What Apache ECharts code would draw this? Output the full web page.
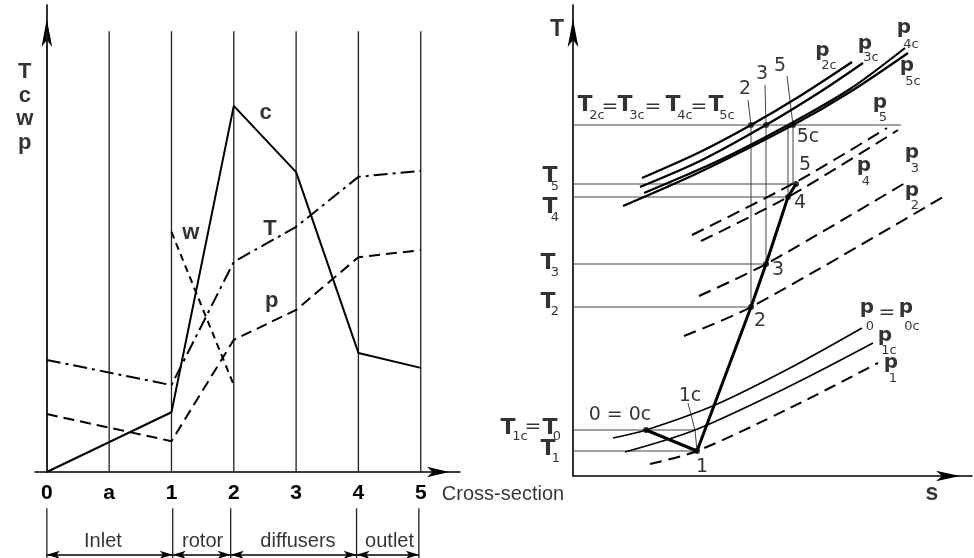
<!DOCTYPE html>
<html><head><meta charset="utf-8">
<script src="https://cdn.jsdelivr.net/npm/echarts@6.0.0/dist/echarts.min.js"></script>
<style>html,body{margin:0;padding:0;background:#fff}#chart{width:974px;height:558px}</style>
</head><body><div id="chart"></div>
<script>
// ================= LEFT PANEL DATA =================
const sections = ['0', 'a', '1', '2', '3', '4', '5'];
const cValues = [0, null, 1.28, 7.84, 6.42, 2.55, 2.23];
const TValues = [2.40, null, 1.86, 4.50, 5.25, 6.32, 6.45];
const pValues = [1.24, null, 0.66, 2.83, 3.47, 4.60, 4.75];
const wValues = [null, null, 5.14, 1.86, null, null, null];
const sectionLineTop = 9.44;
const regionNames = ['Inlet', 'rotor', 'diffusers', 'outlet'];
const regionEdges = [0, 2.02, 2.95, 4.97, 5.97];

// ================= RIGHT PANEL DATA (s, T) =================
const isoP2c = [[6.9, 29.8], [12.7, 32.4], [17.8, 35.1], [22.7, 38.0], [27.9, 41.4]];
const isoP3c = [[6.7, 28.9], [12.7, 31.5], [19.3, 35.1], [24.7, 38.4], [29.0, 41.3]];
const isoP4c = [[7.1, 28.3], [14.7, 31.6], [21.5, 35.1], [27.7, 38.7], [33.2, 42.8]];
const isoP5c = [[5.0, 27.0], [12.7, 30.4], [22.0, 35.1], [27.7, 38.4], [33.5, 42.3]];
const isoP5 = [[11.9, 24.1], [22.3, 29.4], [31.4, 34.8]];
const isoP4 = [[12.8, 23.5], [21.5, 27.9], [32.5, 34.6]];
const isoP3 = [[12.6, 18.0], [19.3, 21.2], [33.2, 29.3]];
const isoP2 = [[11.1, 14.0], [17.8, 16.9], [37.0, 27.9]];
const isoP0 = [[4.0, 3.8], [7.3, 4.6], [14.2, 7.1], [21.7, 10.8], [28.9, 14.8]];
const isoP1c = [[5.2, 2.4], [12.2, 4.6], [21.7, 9.0], [30.0, 13.3]];
const isoP1 = [[7.7, 1.2], [12.4, 2.5], [21.7, 6.8], [30.5, 11.3]];
const processPath = [[7.3, 4.6], [12.4, 2.5], [17.8, 16.9], [19.3, 21.2], [21.5, 27.9], [22.3, 29.2]];
const stagnationPoints = [[17.8, 35.1], [19.3, 35.1], [22.0, 35.1]];
// temperature levels: [T, s where the level line ends]
const levelLines = [[35.1, 32.8], [29.2, 22.0], [27.9, 21.5], [21.2, 19.3], [16.9, 17.8], [4.6, 12.2], [2.5, 12.4]];
// projections: [s, T top, T bottom]
const dropLines = [[17.8, 35.1, 16.9], [19.3, 35.1, 21.2], [21.5, 35.1, 27.9], [22.0, 35.1, 29.2]];
const leaderLines = [
  [[17.5, 37.6], [17.8, 35.1]],
  [[19.2, 39.1], [19.3, 35.1]],
  [[21.4, 40.0], [22.0, 35.1]],
  [[11.5, 7.3], [12.2, 4.6], [12.4, 2.5]]
];

// ================= TEXT ANNOTATIONS =================
const leftBoldTexts = [[3.51, 7.68, 'c'], [2.31, 5.11, 'w'], [3.58, 5.21, 'T'], [3.61, 3.66, 'p'],
  [-0.353, 8.57, 'T'], [-0.353, 8.06, 'c'], [-0.353, 7.55, 'w'], [-0.353, 7.04, 'p']];
const leftPlainTexts = [[7.32, -0.49, 'Cross-section']];
const regionLabelPos = [0.90, 2.50, 4.03, 5.50];

const rightPTexts = [[24.95, 42.55], [29.2, 43.2], [33.1, 44.8], [33.4, 41.0], [30.7, 37.3], [29.1, 31.0],
  [33.9, 32.3], [33.9, 28.5], [29.4, 16.8], [33.3, 16.8], [31.2, 14.0], [31.8, 11.3]];
const rightSubTexts = [[25.6, 41.0, '2c'], [29.8, 41.8, '3c'], [33.8, 43.1, '4c'], [34.0, 39.4, '5c'], [31.0, 35.8, '5'],
  [29.3, 29.4, '4'], [34.2, 30.7, '3'], [34.2, 27.0, '2'], [29.7, 14.9, '0'], [33.9, 14.9, '0c'], [31.6, 12.5, '1c'], [32.0, 9.7, '1'],
  [2.4, 36.0, '2c'], [6.4, 36.0, '3c'], [11.2, 36.0, '4c'], [15.4, 36.0, '5c'],
  [-1.8, 28.9, '5'], [-1.8, 25.8, '4'], [-1.8, 20.3, '3'], [-1.8, 16.4, '2'], [-5.3, 3.9, '1c'], [-1.6, 3.9, '0'], [-1.7, 1.7, '1']];
const rightTTexts = [[1.2, 37.1], [5.2, 37.1], [10.0, 37.1], [14.3, 37.1],
  [-2.3, 30.0], [-2.3, 26.9], [-2.5, 21.3], [-2.5, 17.4], [-6.5, 4.8], [-2.3, 4.8], [-2.5, 2.7]];
const rightEqTexts = [[3.7, 36.9], [8.0, 36.9], [12.6, 36.9], [31.4, 16.3], [-4.0, 4.9]];
const rightNumTexts = [[17.2, 38.7, '2'], [18.9, 40.2, '3'], [20.7, 41.0, '5'], [23.5, 33.9, '5c'], [23.2, 31.1, '5'],
  [22.7, 27.3, '4'], [20.5, 20.6, '3'], [18.7, 15.5, '2'], [11.7, 8.0, '1c'], [4.7, 6.1, '0 = 0c'], [12.9, 0.9, '1']];
const rightAxisTitles = [[-1.6, 44.6, 'T'], [35.9, -1.75, 's']];

// ================= BUILD =================
const ARIAL = 'Liberation Sans, Arial, sans-serif';
const DEJAVU = 'DejaVu Sans, sans-serif';
const toPairs = vals => vals.map((v, i) => v == null ? null : [i, v]).filter(Boolean);

function line(idx, data, lineStyle, extra) {
  return Object.assign({
    type: 'line', xAxisIndex: idx, yAxisIndex: idx, data: data, symbol: 'none',
    silent: true, connectNulls: true,
    lineStyle: Object.assign({ color: '#000', width: 2 }, lineStyle)
  }, extra || {});
}
function texts(idx, items, labelStyle) {
  return {
    type: 'scatter', xAxisIndex: idx, yAxisIndex: idx, clip: false, silent: true,
    symbolSize: 1, itemStyle: { color: 'rgba(0,0,0,0)' },
    data: items.map(t => ({ value: [t[0], t[1]], name: t[2] })),
    label: Object.assign({ show: true, position: 'inside', color: '#000', formatter: p => p.name }, labelStyle)
  };
}

const series = [];
// left: section lines
sections.forEach((s, i) => series.push(line(0, [[i, 0], [i, sectionLineTop]], { width: 1.3, color: '#222' })));
series.push(line(0, toPairs(cValues), { width: 2 }));
series.push(line(0, toPairs(TValues), { width: 2, type: [14, 5, 3, 5] }));
series.push(line(0, toPairs(pValues), { width: 2, type: [11, 6] }));
series.push(line(0, toPairs(wValues), { width: 2, type: [7, 5] }));
series.push(texts(0, leftBoldTexts, { fontFamily: ARIAL, fontWeight: 'bold', fontSize: 22 }));
series.push(texts(0, leftPlainTexts, { fontFamily: ARIAL, fontSize: 20 }));

// brackets
regionEdges.forEach(x => series.push(line(1, [[x, 0], [x, 0.94]], { width: 1.3, color: '#222' })));
series.push({
  type: 'line', xAxisIndex: 1, yAxisIndex: 1, data: [[0, 0]], symbol: 'none', silent: true, lineStyle: { opacity: 0 },
  markLine: {
    silent: true, symbol: ['arrow', 'arrow'], symbolSize: [6, 13], label: { show: false },
    lineStyle: { color: '#000', width: 1.5, type: 'solid' },
    data: regionNames.map((n, i) => [{ coord: [regionEdges[i], 0.06] }, { coord: [regionEdges[i + 1], 0.06] }])
  }
});
series.push(texts(1, regionNames.map((n, i) => [regionLabelPos[i], 0.32, n]), { fontFamily: ARIAL, fontSize: 20 }));

// right panel
levelLines.forEach(l => series.push(line(2, [[0, l[0]], [l[1], l[0]]], { width: 1, color: '#444' })));
dropLines.forEach(d => series.push(line(2, [[d[0], d[1]], [d[0], d[2]]], { width: 1, color: '#444' })));
leaderLines.forEach(d => series.push(line(2, d, { width: 1, color: '#444' })));
const sm = { smooth: 0.3 };
[isoP2c, isoP3c, isoP4c, isoP5c].forEach(d => series.push(line(2, d, { width: 2.2 }, sm)));
[isoP5, isoP4, isoP3, isoP2].forEach(d => series.push(line(2, d, { width: 2, type: [13, 7] }, sm)));
series.push(line(2, isoP0, { width: 1.6 }, sm));
series.push(line(2, isoP1c, { width: 1.6 }, sm));
series.push(line(2, isoP1, { width: 2, type: [12, 7] }, sm));
series.push(line(2, processPath, { width: 3 }));
series.push({ type: 'scatter', xAxisIndex: 2, yAxisIndex: 2, silent: true, symbolSize: 6, itemStyle: { color: '#000' },
  data: stagnationPoints.concat(processPath) });
series.push(texts(2, rightPTexts.map(t => [t[0], t[1], 'p']), { fontFamily: DEJAVU, fontWeight: 'bold', fontSize: 20 }));
series.push(texts(2, rightSubTexts, { fontFamily: DEJAVU, fontSize: 13 }));
series.push(texts(2, rightTTexts.map(t => [t[0], t[1], 'T']), { fontFamily: DEJAVU, fontWeight: 'bold', fontSize: 22 }));
series.push(texts(2, rightEqTexts.map(t => [t[0], t[1], '=']), { fontFamily: DEJAVU, fontSize: 20 }));
series.push(texts(2, rightNumTexts, { fontFamily: DEJAVU, fontSize: 19 }));
series.push(texts(2, rightAxisTitles, { fontFamily: ARIAL, fontWeight: 'bold', fontSize: 23 }));

const axisLineStyle = { color: '#000', width: 1.6 };
const hidden = { show: false };
const option = {
  animation: false,
  backgroundColor: '#fff',
  grid: [
    { left: 35, top: 5, width: 425, height: 467 },
    { left: 35, top: 505, width: 425, height: 53 },
    { left: 573, top: 5, width: 399, height: 471 }
  ],
  xAxis: [
    { gridIndex: 0, type: 'value', min: -0.19, max: 6.63,
      axisLine: { onZero: true, lineStyle: axisLineStyle, symbol: ['none', 'arrow'], symbolSize: [8, 22], symbolOffset: [0, -11] },
      axisTick: hidden, splitLine: hidden,
      axisLabel: { customValues: sections.map((s, i) => i), formatter: v => sections[Math.round(v)],
        fontFamily: ARIAL, fontWeight: 'bold', fontSize: 21, color: '#000', margin: 11 } },
    { gridIndex: 1, type: 'value', min: -0.19, max: 6.63, show: false },
    { gridIndex: 2, type: 'value', min: 0, max: 39.9,
      axisLine: { onZero: false, lineStyle: axisLineStyle, symbol: ['none', 'arrow'], symbolSize: [8, 24], symbolOffset: [0, -12] },
      axisTick: hidden, splitLine: hidden, axisLabel: hidden }
  ],
  yAxis: [
    { gridIndex: 0, type: 'value', min: 0, max: 10,
      axisLine: { onZero: true, lineStyle: axisLineStyle, symbol: ['none', 'arrow'], symbolSize: [8, 28], symbolOffset: [0, -14] },
      axisTick: hidden, splitLine: hidden, axisLabel: hidden },
    { gridIndex: 1, type: 'value', min: 0, max: 1, show: false },
    { gridIndex: 2, type: 'value', min: 0, max: 47.1,
      axisLine: { onZero: false, lineStyle: axisLineStyle, symbol: ['none', 'arrow'], symbolSize: [8, 28], symbolOffset: [0, -14] },
      axisTick: hidden, splitLine: hidden, axisLabel: hidden }
  ],
  series: series
};
const chart = echarts.init(document.getElementById('chart'), null, { renderer: 'canvas' });
chart.setOption(option);
</script>
</body></html>
